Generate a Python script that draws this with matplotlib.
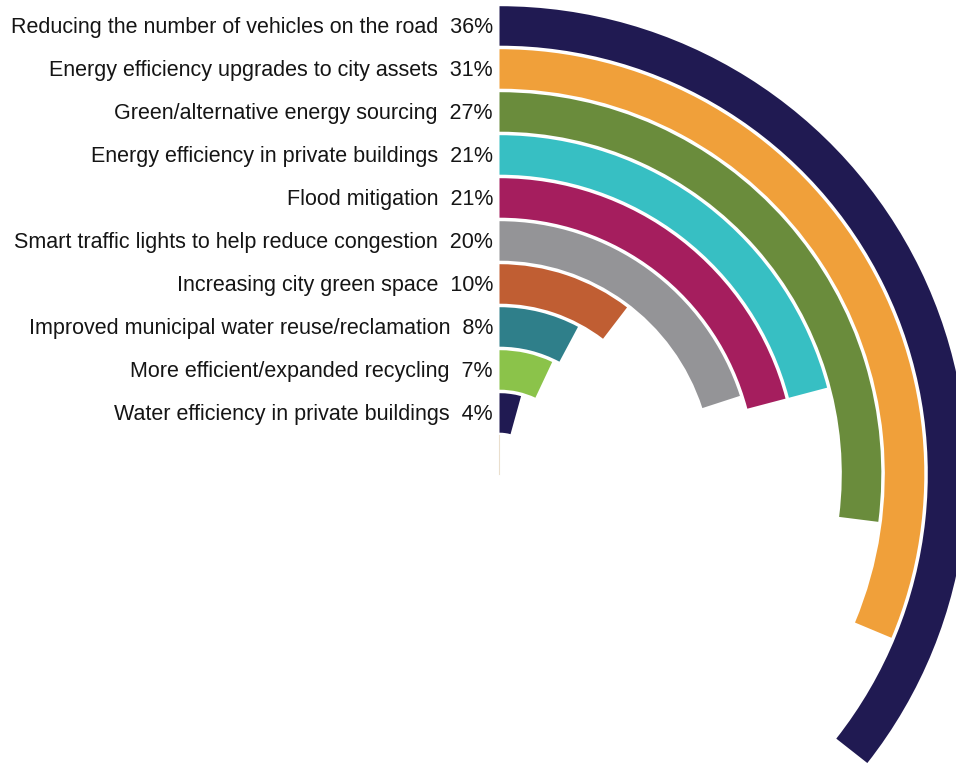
import numpy as np
import matplotlib
matplotlib.use("Agg")
import matplotlib.pyplot as plt
from matplotlib.transforms import offset_copy

plt.rcParams['font.family'] = ['Liberation Sans', 'DejaVu Sans']

# data, outermost ring first
categories = [
    "Reducing the number of vehicles on the road",
    "Energy efficiency upgrades to city assets",
    "Green/alternative energy sourcing",
    "Energy efficiency in private buildings",
    "Flood mitigation",
    "Smart traffic lights to help reduce congestion",
    "Increasing city green space",
    "Improved municipal water reuse/reclamation",
    "More efficient/expanded recycling",
    "Water efficiency in private buildings",
]
values = [35.6, 31.3, 27.0, 20.9, 20.9, 20.0, 10.4, 7.8, 7.0, 4.3]
labels = ["36%", "31%", "27%", "21%", "21%", "20%", "10%", "8%", "7%", "4%"]
colors = ["#201a52", "#f0a03a", "#6a8c3c", "#37bfc3", "#a51e5e",
          "#949497", "#c05e33", "#2f7f8a", "#8bc34a", "#201a52"]

W, H = 956, 763
cx, cy = 499.5, 474.0     # ring centre in pixels (from top-left)
R = 470.0                 # axes radius in pixels
inner0, pitch, thick = 41.3, 43.0, 39.5

fig = plt.figure(figsize=(W / 100, H / 100), dpi=100)
ax = fig.add_axes([(cx - R) / W, (H - cy - R) / H, 2 * R / W, 2 * R / H],
                  projection='polar')
ax.set_theta_zero_location('N')
ax.set_theta_direction(-1)
ax.set_ylim(0, R)
ax.axis('off')

n = len(values)
for k, (name, v, lab, c) in enumerate(zip(categories, values, labels, colors)):
    ring = n - 1 - k
    bottom = inner0 + pitch * ring
    theta = v / 100 * 2 * np.pi
    ax.bar(0, thick, width=theta, bottom=bottom, align='edge',
           color=c, edgecolor='none', linewidth=0)
    tr = offset_copy(ax.transData, fig=fig, x=-6.5, y=-7.3, units='dots')
    ax.text(0, bottom + thick / 2, f"{name}  {lab}", transform=tr,
            ha='right', va='baseline', fontsize=15.5, color='#151515')

# thin axis line from the centre up to the innermost ring
ax.plot([0, 0], [0, inner0 - 2], color='#eadfce', lw=0.8)

fig.savefig("out.png", dpi=100)
